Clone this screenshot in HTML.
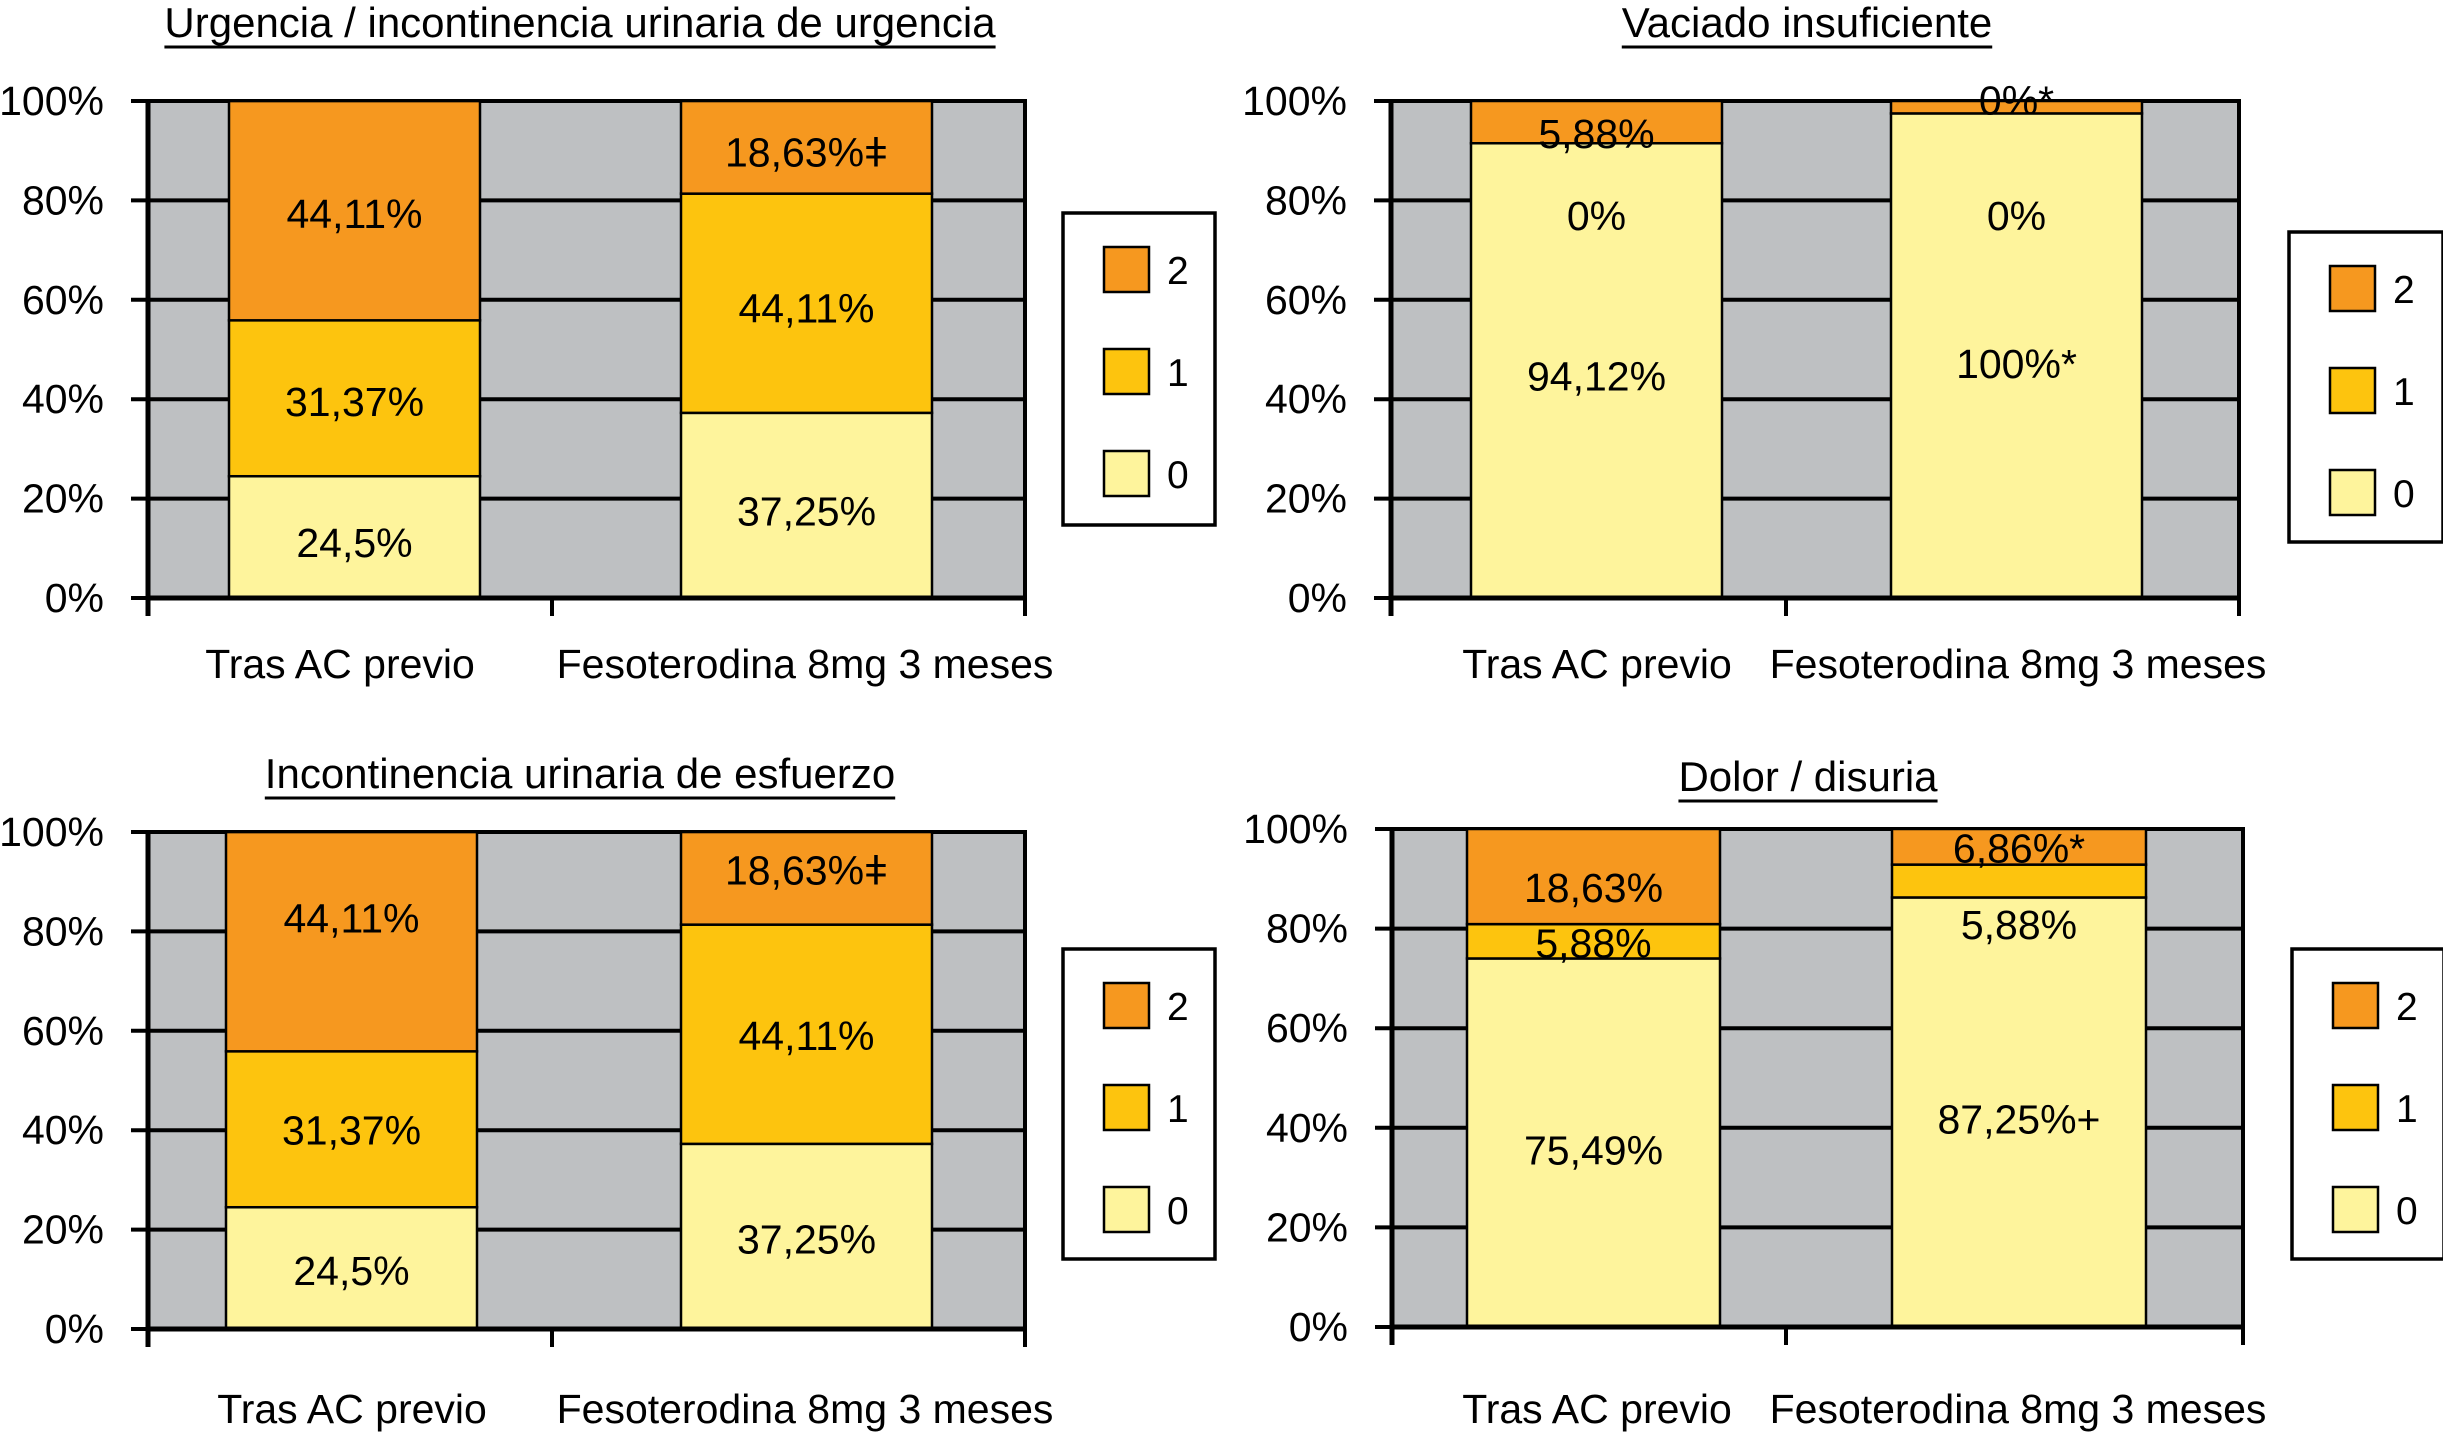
<!DOCTYPE html>
<html><head><meta charset="utf-8"><style>
html,body{margin:0;padding:0;background:#fff;}
svg{display:block;font-family:"Liberation Sans",Arial,sans-serif;}
</style></head><body>
<svg id="fig" width="2443" height="1444" viewBox="0 0 2443 1444" xmlns="http://www.w3.org/2000/svg"></svg>
<script>
// ---- data ----
const chartTitles = ["Urgencia / incontinencia urinaria de urgencia","Vaciado insuficiente","Incontinencia urinaria de esfuerzo","Dolor / disuria"];
const categories = ["Tras AC previo","Fesoterodina 8mg 3 meses"];
const seriesNames = ["0","1","2"];
const yTicks = [0,20,40,60,80,100];
const yTickLabels = ["0%","20%","40%","60%","80%","100%"];
// values per chart: [bar1, bar2]
const level0 = [[24.5,37.25],[91.5,97.5],[24.5,37.25],[74.0,86.25]];
const level1 = [[31.37,44.11],[0,0],[31.37,44.11],[6.9,6.6]];
const level2 = [[44.11,18.63],[8.5,2.5],[44.11,18.63],[19.1,7.15]];
// printed value labels per chart, per bar: [text, anchor value in %]
const valueLabels = [
 [[["24,5%",11.3],["31,37%",39.6],["44,11%",77.5]],[["37,25%",17.6],["44,11%",58.5],["18,63%ǂ",89.8]]],
 [[["94,12%",44.8],["0%",77.1],["5,88%",93.6]],[["100%*",47.3],["0%",77.1],["0%*",100.3]]],
 [[["24,5%",11.9],["31,37%",40.1],["44,11%",82.8]],[["37,25%",18.2],["44,11%",59.2],["18,63%ǂ",92.5]]],
 [[["75,49%",35.6],["5,88%",77.2],["18,63%",88.4]],[["87,25%+",41.9],["5,88%",80.9],["6,86%*",96.3]]]
];
// ---- layout ----
const colors = ["#FEF49C","#FDC40E","#F6981F"];
const panels = [
 {x0:148,x1:1025,y0:101,y1:598,bars:[[229,480],[681,932]],mid:552,lg:[1063,213,152,312],tx:580,ty:37,ul:47,cx:[340,805],cy:678},
 {x0:1391,x1:2239,y0:101,y1:598,bars:[[1471,1722],[1891,2142]],mid:1786,lg:[2289,232,154,310],tx:1807,ty:37,ul:47,cx:[1597,2018],cy:678},
 {x0:148,x1:1025,y0:832,y1:1329,bars:[[226,477],[681,932]],mid:552,lg:[1063,949,152,310],tx:580,ty:788,ul:798,cx:[352,805],cy:1423},
 {x0:1392,x1:2243,y0:829,y1:1327,bars:[[1467,1720],[1892,2146]],mid:1786,lg:[2292,949,152,310],tx:1808,ty:791,ul:801,cx:[1597,2018],cy:1423}
];
const NS="http://www.w3.org/2000/svg";
const svg=document.getElementById('fig');
function mk(tag,attrs,parent){const e=document.createElementNS(NS,tag);for(const k in attrs)e.setAttribute(k,attrs[k]);(parent||svg).appendChild(e);return e;}
panels.forEach((p,ci)=>{
 const g=mk('g',{});
 
 
 const yS=v=>p.y1-(v/100)*(p.y1-p.y0);
 const bg=mk('rect',{x:p.x0,y:p.y0,width:p.x1-p.x0,height:p.y1-p.y0,fill:'#BEC0C2',stroke:'#000','stroke-width':4},g);
 
 
 yTicks.forEach((t,i)=>{
  const ln=mk('line',{x1:p.x0-17,x2:p.x1,y1:yS(t),y2:yS(t),stroke:'#000','stroke-width':4},g);
  
  
  const tx=mk('text',{x:p.x0-44,y:yS(t)+14,'font-size':41,'text-anchor':'end',fill:'#000'},g);
  tx.textContent=yTickLabels[i];
  
  
 });
 categories.forEach((c,bi)=>{
  const [bx0,bx1]=p.bars[bi];
  const vals=[level0[ci][bi],level1[ci][bi],level2[ci][bi]];
  let acc=0;
  vals.forEach((v,si)=>{
   const r=mk('rect',{x:bx0,y:yS(acc+v),width:bx1-bx0,height:yS(acc)-yS(acc+v),fill:colors[si],stroke:'#000','stroke-width':2.5},g);
   
   
   acc+=v;
  });
  valueLabels[ci][bi].forEach(lb=>{
   const t=mk('text',{x:(bx0+bx1)/2,y:yS(lb[1])+15,'font-size':41,'text-anchor':'middle',fill:'#000'},g);
   t.textContent=lb[0];
   
   
  });
  const ct=mk('text',{x:p.cx[bi],y:p.cy,'font-size':41,'text-anchor':'middle',fill:'#000'},g);
  ct.textContent=c;
  
  
 });
 mk('line',{x1:p.x0,x2:p.x0,y1:p.y0,y2:p.y1+18,stroke:'#000','stroke-width':5},g);
 mk('line',{x1:p.x0,x2:p.x1,y1:p.y1,y2:p.y1,stroke:'#000','stroke-width':5},g);
 [p.mid,p.x1].forEach(x=>mk('line',{x1:x,x2:x,y1:p.y1,y2:p.y1+18,stroke:'#000','stroke-width':4},g));
 const tt=mk('text',{x:p.tx,y:p.ty,'font-size':42,'text-anchor':'middle',fill:'#000'},g);
 tt.textContent=chartTitles[ci];
 
 
 const w=tt.getComputedTextLength();
 mk('line',{x1:p.tx-w/2,x2:p.tx+w/2,y1:p.ul,y2:p.ul,stroke:'#000','stroke-width':3},g);
 const [lx,ly,lw,lh]=p.lg;
 const lg=mk('g',{},g);
 
 
 mk('rect',{x:lx,y:ly,width:lw,height:lh,fill:'#fff',stroke:'#000','stroke-width':3.5},lg);
 [2,1,0].forEach((si,k)=>{
  const sy=ly+34+k*102;
  const s=mk('rect',{x:lx+41,y:sy,width:45,height:45,fill:colors[si],stroke:'#000','stroke-width':2.5},lg);
  
  
  const t=mk('text',{x:lx+104,y:sy+37,'font-size':39,fill:'#000'},lg);
  t.textContent=seriesNames[si];
  
  
 });
});
</script>
</body></html>
